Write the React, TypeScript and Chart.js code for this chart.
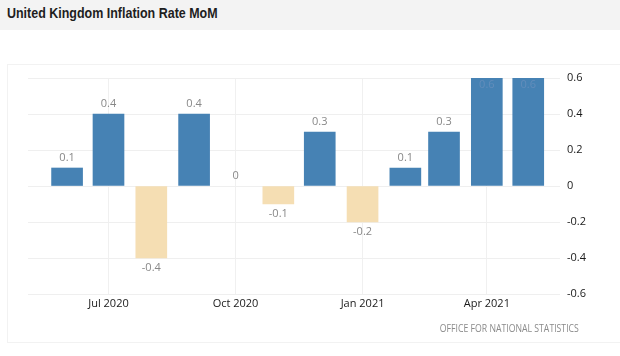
import React, { useEffect, useRef } from "react";
import { Chart, registerables } from "chart.js";

Chart.register(...registerables);

// ---- data ----
const months = [
  "2020-06-01", "2020-07-01", "2020-08-01", "2020-09-01", "2020-10-01", "2020-11-01",
  "2020-12-01", "2021-01-01", "2021-02-01", "2021-03-01", "2021-04-01", "2021-05-01",
];
const values = [0.1, 0.4, -0.4, 0.4, 0, -0.1, 0.3, -0.2, 0.1, 0.3, 0.6, 0.6];
const xTickDates = ["2020-07-01", "2020-10-01", "2021-01-01", "2021-04-01"];
const xTickLabels = ["Jul 2020", "Oct 2020", "Jan 2021", "Apr 2021"];
const yTicks = [-0.6, -0.4, -0.2, 0, 0.2, 0.4, 0.6];
const title = "United Kingdom Inflation Rate MoM";
const source = "OFFICE FOR NATIONAL STATISTICS";

const DAY = 86400000;
const base = Date.parse(months[0]);
const dayOffset = (s: string) => (Date.parse(s) - base) / DAY;

const POS = "#4682b4";
const NEG = "#f5deb3";

const labelPlugin = {
  id: "vlabels",
  afterDatasetsDraw(chart: any) {
    const ctx = chart.ctx;
    const meta = chart.getDatasetMeta(0);
    const area = chart.chartArea;
    ctx.save();
    ctx.font = '11px "Open Sans"';
    ctx.textAlign = "center";
    ctx.textBaseline = "middle";
    meta.data.forEach((el: any, i: number) => {
      const v = values[i];
      const { x, y } = el.getProps(["x", "y"], true);
      let ty = v < 0 ? y + 10 : y - 10;
      let color = "#888888";
      if (ty < area.top) {
        ty = y + 7;
        color = "#628dbb";
      }
      ctx.fillStyle = color;
      ctx.fillText(String(v), x, ty);
    });
    ctx.restore();
  },
};

export default function App() {
  const ref = useRef<HTMLCanvasElement | null>(null);

  useEffect(() => {
    if (!ref.current) return;
    const chart = new Chart(ref.current, {
      type: "bar",
      data: {
        datasets: [
          {
            data: months.map((m, i) => ({ x: dayOffset(m), y: values[i] })),
            backgroundColor: values.map((v) => (v > 0 ? POS : v < 0 ? NEG : "rgba(0,0,0,0)")),
            barThickness: 31,
            borderWidth: 0,
          },
        ],
      },
      options: {
        animation: false,
        responsive: false,
        layout: { padding: { left: 28, top: 78, right: 0, bottom: 0 } },
        plugins: { legend: { display: false }, tooltip: { enabled: false } },
        scales: {
          x: {
            type: "linear",
            min: -28.3,
            max: 357,
            offset: false,
            grid: { offset: false, color: "#f0f0f0", drawTicks: false },
            border: { display: false },
            afterBuildTicks: (axis: any) => {
              axis.ticks = xTickDates.map((d) => ({ value: dayOffset(d) }));
            },
            afterFit: (axis: any) => {
              axis.height = 62;
            },
            ticks: {
              padding: 3,
              color: "#1a1a1a",
              font: { family: "Open Sans", size: 11 },
              maxRotation: 0,
              autoSkip: false,
              callback: (_v: any, i: number) => xTickLabels[i],
            },
          },
          y: {
            position: "right",
            min: -0.6,
            max: 0.6,
            grid: { color: "#efefef", drawTicks: false },
            border: { display: false },
            afterBuildTicks: (axis: any) => {
              axis.ticks = yTicks.map((v) => ({ value: v }));
            },
            afterFit: (axis: any) => {
              axis.width = 60;
            },
            ticks: {
              padding: 7,
              color: "#1a1a1a",
              font: { family: "Open Sans", size: 11 },
              callback: (v: any) => String(Number(Number(v).toFixed(1))),
            },
          },
        },
      },
      plugins: [labelPlugin],
    } as any);
    return () => chart.destroy();
  }, []);

  return (
    <div style={{ position: "relative", width: 620, height: 356, background: "#fff", overflow: "hidden" }}>
      <style>{"body{margin:0}"}</style>
      <div
        style={{
          position: "absolute",
          left: 0,
          top: 0,
          width: 620,
          height: 30,
          background: "#f3f3f3",
        }}
      >
        <div
          style={{
            position: "absolute",
            left: 7,
            top: 0,
            lineHeight: "27px",
            fontFamily: '"Liberation Sans", Arial, sans-serif',
            fontWeight: "bold",
            fontSize: 14.5,
            color: "#1e1e1e",
            whiteSpace: "nowrap",
            transform: "scaleX(0.86)",
            transformOrigin: "left center",
          }}
        >
          {title}
        </div>
      </div>
      <div
        style={{
          position: "absolute",
          left: 7,
          top: 64,
          width: 620,
          height: 279,
          border: "1px solid #f2f2f2",
          boxSizing: "border-box",
        }}
      />
      <canvas
        ref={ref}
        width={620}
        height={356}
        style={{ position: "absolute", left: 0, top: 0, width: 620, height: 356 }}
      />
      <div
        style={{
          position: "absolute",
          right: 41,
          top: 320,
          lineHeight: "16px",
          fontFamily: '"Open Sans", sans-serif',
          fontSize: 10,
          color: "#8a8a8a",
          whiteSpace: "nowrap",
          transform: "scaleX(0.87)",
          transformOrigin: "right center",
        }}
      >
        {source}
      </div>
    </div>
  );
}
